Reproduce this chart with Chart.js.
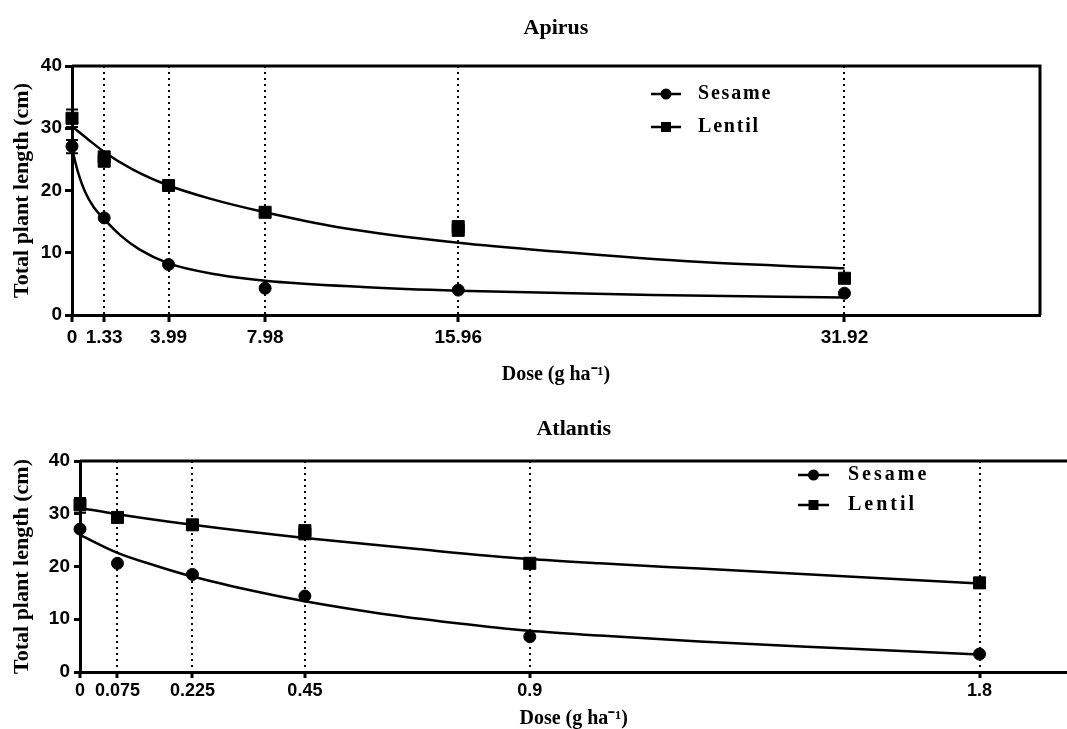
<!DOCTYPE html>
<html lang="en">
<head>
    <meta charset="UTF-8">
    <title>Total plant length vs dose</title>
    <script src="https://cdn.jsdelivr.net/npm/chart.js@4"></script>
    <style>
        body {
            margin: 0;
            background: #fff;
            overflow: hidden;
        }
        .panel {
            position: absolute;
            left: 0;
        }
        #top { top: 0; width: 1067px; height: 385px; }
        #bottom { top: 390px; width: 1077px; height: 339px; }
    </style>
</head>
<body>

    <div class="panel" id="top"><canvas id="apirus"></canvas></div>
    <div class="panel" id="bottom"><canvas id="atlantis"></canvas></div>

    <script>
        // ---- Apirus (top panel) ----
        const apirusDoses = [0, 1.33, 3.99, 7.98, 15.96, 31.92];
        const apirusDoseLabels = ['0', '1.33', '3.99', '7.98', '15.96', '31.92'];
        const apirusSesameX = [0, 1.33, 3.99, 7.98, 15.96, 31.92];
        const apirusSesameY = [27.1, 15.6, 8.1, 4.3, 4.0, 3.5];
        const apirusLentilX = [0, 1.33, 1.33, 3.99, 7.98, 15.96, 15.96, 31.92];
        const apirusLentilY = [31.6, 24.7, 25.4, 20.8, 16.5, 13.6, 14.2, 5.9];
        // fitted curves
        const apirusSesameFitX = [0, 0.12, 0.26, 0.54, 0.9, 1.33, 2, 2.8, 3.99, 6, 7.98, 12, 15.96, 24, 31.92];
        const apirusSesameFitY = [27, 24.8, 22.8, 19.8, 17.3, 15.4, 12.8, 10.5, 8.3, 6.5, 5.5, 4.5, 3.9, 3.2, 2.8];
        const apirusLentilFitX = [0, 0.67, 1.33, 2.5, 3.99, 5.7, 7.98, 11, 15.96, 20, 26, 31.92];
        const apirusLentilFitY = [30.3, 28.2, 26.2, 23.4, 20.8, 18.7, 16.5, 14.1, 11.6, 10.2, 8.5, 7.5];
        // error bars at the control dose (sesame, lentil)
        const apirusErrX = [0, 0];
        const apirusErrLow = [26.0, 30.2];
        const apirusErrHigh = [28.1, 33.0];

        // ---- Atlantis (bottom panel) ----
        const atlantisDoses = [0, 0.075, 0.225, 0.45, 0.9, 1.8];
        const atlantisDoseLabels = ['0', '0.075', '0.225', '0.45', '0.9', '1.8'];
        const atlantisSesameX = [0, 0.075, 0.225, 0.45, 0.9, 1.8];
        const atlantisSesameY = [27.1, 20.6, 18.5, 14.4, 6.7, 3.4];
        const atlantisLentilX = [0, 0.075, 0.225, 0.45, 0.45, 0.9, 1.8];
        const atlantisLentilY = [31.7, 29.3, 27.9, 26.2, 26.8, 20.6, 16.9];
        const atlantisSesameFitX = [0, 0.075, 0.15, 0.225, 0.35, 0.45, 0.6, 0.75, 0.9, 1.04, 1.24, 1.5, 1.8];
        const atlantisSesameFitY = [26.0, 22.6, 20.2, 18.1, 15.3, 13.4, 11.1, 9.3, 7.8, 6.9, 5.8, 4.6, 3.3];
        const atlantisLentilFitX = [0, 0.075, 0.225, 0.45, 0.675, 0.9, 1.04, 1.24, 1.5, 1.8];
        const atlantisLentilFitY = [31.1, 29.9, 27.9, 25.4, 23.3, 21.4, 20.6, 19.6, 18.3, 16.8];
        const atlantisErrX = [0];
        const atlantisErrLow = [30.2];
        const atlantisErrHigh = [33.0];

        const SERIF = '"Liberation Serif", "Times New Roman", serif';
        const SANS = '"Liberation Sans", Arial, sans-serif';

        function pairs(xs, ys) {
            return xs.map((x, i) => ({ x: x, y: ys[i] }));
        }

        // frame lines, error bars and the inline legend
        const extrasPlugin = {
            id: 'extras',
            afterDatasetsDraw(chart, args, o) {
                const ctx = chart.ctx;
                const a = chart.chartArea;
                const xs = chart.scales.x;
                const ys = chart.scales.y;
                ctx.save();
                ctx.strokeStyle = '#000';
                ctx.fillStyle = '#000';

                ctx.lineWidth = 3;
                ctx.beginPath();
                ctx.moveTo(a.left, a.top);
                ctx.lineTo(a.right, a.top);
                if (o.rightEdge) ctx.lineTo(a.right, a.bottom);
                ctx.stroke();

                ctx.lineWidth = 2;
                o.errX.forEach((v, i) => {
                    const px = xs.getPixelForValue(v);
                    const lo = ys.getPixelForValue(o.errLow[i]);
                    const hi = ys.getPixelForValue(o.errHigh[i]);
                    ctx.beginPath();
                    ctx.moveTo(px, lo); ctx.lineTo(px, hi);
                    ctx.moveTo(px - 6, lo); ctx.lineTo(px + 6, lo);
                    ctx.moveTo(px - 6, hi); ctx.lineTo(px + 6, hi);
                    ctx.stroke();
                });

                const L = o.legend;
                chart.data.datasets.slice(0, 2).forEach((ds, i) => {
                    const y = L.y + i * L.step;
                    ctx.lineWidth = 2.5;
                    ctx.beginPath();
                    ctx.moveTo(L.x, y);
                    ctx.lineTo(L.x + L.len, y);
                    ctx.stroke();
                    const cx = L.x + L.len / 2;
                    if (ds.pointStyle === 'rect') {
                        ctx.fillRect(cx - 5, y - 5, 10, 10);
                    } else {
                        ctx.beginPath();
                        ctx.arc(cx, y, 5.5, 0, Math.PI * 2);
                        ctx.fill();
                    }
                    ctx.font = 'bold ' + L.size + 'px ' + SERIF;
                    ctx.letterSpacing = L.spacing + 'px';
                    ctx.textAlign = 'left';
                    ctx.textBaseline = 'middle';
                    ctx.fillText(ds.label, L.textX, y);
                });
                ctx.restore();
            }
        };

        function buildChart(canvasId, p) {
            return new Chart(document.getElementById(canvasId), {
                type: 'scatter',
                data: {
                    datasets: [
                        {
                            label: 'Sesame',
                            data: pairs(p.sesameX, p.sesameY),
                            pointStyle: 'circle',
                            pointRadius: p.dot,
                            backgroundColor: '#000',
                            borderColor: '#000',
                            clip: false
                        },
                        {
                            label: 'Lentil',
                            data: pairs(p.lentilX, p.lentilY),
                            pointStyle: 'rect',
                            pointRadius: p.square,
                            backgroundColor: '#000',
                            borderColor: '#000',
                            clip: false
                        },
                        {
                            label: 'Sesame fit',
                            data: pairs(p.sesameFitX, p.sesameFitY),
                            showLine: true,
                            pointRadius: 0,
                            borderColor: '#000',
                            borderWidth: 2.5,
                            cubicInterpolationMode: 'monotone',
                            clip: false
                        },
                        {
                            label: 'Lentil fit',
                            data: pairs(p.lentilFitX, p.lentilFitY),
                            showLine: true,
                            pointRadius: 0,
                            borderColor: '#000',
                            borderWidth: 2.5,
                            cubicInterpolationMode: 'monotone',
                            clip: false
                        }
                    ]
                },
                options: {
                    responsive: true,
                    maintainAspectRatio: false,
                    animation: false,
                    layout: { padding: { left: 0, right: p.padRight, top: 0, bottom: 0 } },
                    plugins: {
                        legend: { display: false },
                        tooltip: { enabled: false },
                        title: {
                            display: true,
                            text: p.title,
                            fullSize: false,
                            color: '#000',
                            font: { family: SERIF, size: 22, weight: 'bold' },
                            padding: { top: p.titleTop, bottom: p.titleBottom }
                        },
                        extras: {
                            rightEdge: p.rightEdge,
                            errX: p.errX,
                            errLow: p.errLow,
                            errHigh: p.errHigh,
                            legend: p.legend
                        }
                    },
                    scales: {
                        x: {
                            type: 'linear',
                            min: 0,
                            max: p.xMax,
                            afterBuildTicks: s => { s.ticks = p.doses.map(v => ({ value: v })); },
                            afterFit: s => { s.height = p.xHeight; },
                            ticks: {
                                autoSkip: false,
                                maxRotation: 0,
                                color: '#000',
                                padding: p.xTickPad,
                                font: { family: SANS, size: p.xTickSize, weight: 'bold' },
                                callback: (v, i) => p.doseLabels[i]
                            },
                            grid: {
                                color: '#000',
                                lineWidth: 2,
                                drawOnChartArea: true,
                                tickLength: p.tickLen,
                                tickWidth: 3,
                                tickColor: '#000',
                                tickBorderDash: []
                            },
                            border: { display: true, color: '#000', width: 3, dash: [2, 4] },
                            title: {
                                display: true,
                                text: 'Dose (g ha⁻¹)',
                                color: '#000',
                                font: { family: SERIF, size: 20, weight: 'bold', lineHeight: 1 },
                                padding: { top: 0, bottom: 0 }
                            }
                        },
                        y: {
                            min: 0,
                            max: 40,
                            afterFit: s => { s.width = p.yWidth; },
                            ticks: {
                                stepSize: 10,
                                color: '#000',
                                padding: p.yTickPad,
                                font: { family: SANS, size: 19, weight: 'bold' }
                            },
                            grid: {
                                drawOnChartArea: false,
                                tickLength: p.tickLen,
                                tickWidth: 3,
                                tickColor: '#000'
                            },
                            border: { display: true, color: '#000', width: 3 },
                            title: {
                                display: true,
                                text: 'Total plant length (cm)',
                                color: '#000',
                                font: { family: SERIF, size: 22, weight: 'bold', lineHeight: 1 },
                                padding: { top: 11, bottom: 0 }
                            }
                        }
                    }
                },
                plugins: [extrasPlugin]
            });
        }

        buildChart('apirus', {
            title: 'Apirus',
            doses: apirusDoses,
            doseLabels: apirusDoseLabels,
            sesameX: apirusSesameX, sesameY: apirusSesameY,
            lentilX: apirusLentilX, lentilY: apirusLentilY,
            sesameFitX: apirusSesameFitX, sesameFitY: apirusSesameFitY,
            lentilFitX: apirusLentilFitX, lentilFitY: apirusLentilFitY,
            errX: apirusErrX, errLow: apirusErrLow, errHigh: apirusErrHigh,
            xMax: 40,
            dot: 6,
            square: 8.5,
            padRight: 27,
            rightEdge: true,
            titleTop: 15,
            titleBottom: 24.6,
            xHeight: 70,
            xTickPad: 4,
            xTickSize: 19,
            yWidth: 72,
            yTickPad: 3,
            tickLen: 7,
            legend: { x: 651, y: 94, step: 33, len: 30, textX: 698, size: 20, spacing: 1.8 }
        });

        buildChart('atlantis', {
            title: 'Atlantis',
            doses: atlantisDoses,
            doseLabels: atlantisDoseLabels,
            sesameX: atlantisSesameX, sesameY: atlantisSesameY,
            lentilX: atlantisLentilX, lentilY: atlantisLentilY,
            sesameFitX: atlantisSesameFitX, sesameFitY: atlantisSesameFitY,
            lentilFitX: atlantisLentilFitX, lentilFitY: atlantisLentilFitY,
            errX: atlantisErrX, errLow: atlantisErrLow, errHigh: atlantisErrHigh,
            xMax: 1.976,
            dot: 6,
            square: 8.5,
            padRight: 0,
            rightEdge: false,
            titleTop: 25.8,
            titleBottom: 18.8,
            xHeight: 57,
            xTickPad: 2,
            xTickSize: 18,
            yWidth: 80,
            yTickPad: 4,
            tickLen: 6,
            legend: { x: 798, y: 85, step: 30, len: 31, textX: 848, size: 20, spacing: 3 }
        });
    </script>

</body>
</html>
